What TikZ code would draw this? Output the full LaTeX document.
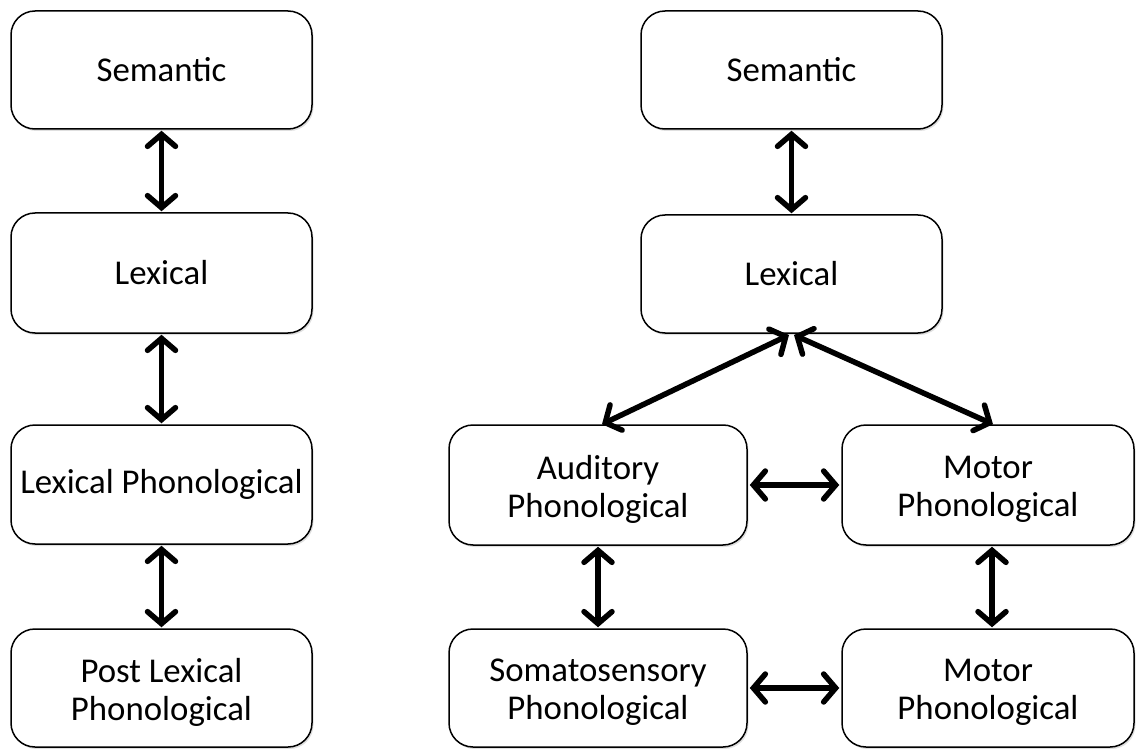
\documentclass[tikz,border=0pt]{standalone}
\usepackage{fontspec}
\setmainfont{Carlito}
\usetikzlibrary{arrows.meta,shadows,positioning}
\begin{document}
\begin{tikzpicture}[x=1pt,y=-1pt,
  level/.style={draw=black, line width=1.5pt, rounded corners=24pt, fill=white,
    align=center, inner sep=0pt, font=\fontsize{34.8}{38}\selectfont,
    drop shadow={opacity=0.25, shadow xshift=1.5pt, shadow yshift=-2pt}},
  twoline/.style={label={[align=center, font=\fontsize{34.8}{38}\selectfont, yshift=-4pt]center:#1}},
  link/.style={line width=5.5pt, line cap=round,
    {Straight Barb[length=12pt,width=28pt,line cap=round]}-{Straight Barb[length=12pt,width=28pt,line cap=round]}}]
\useasboundingbox (0,0) rectangle (1136,749);
% left column: serial model
\node[level, minimum width=301pt, minimum height=118pt] (lsem) at (161.5,70) {Semantic};
\node[level, minimum width=301pt, minimum height=120pt] (llex) at (161.5,273) {Lexical};
\node[level, minimum width=301pt, minimum height=119pt] (lphon) at (161.5,484.5) {Lexical Phonological};
\node[level, minimum width=301pt, minimum height=118pt, twoline={Post Lexical\\Phonological}] (lpost) at (161.5,688) {};
% right column: split phonological levels
\node[level, minimum width=301pt, minimum height=118pt] (rsem) at (791.5,70) {Semantic};
\node[level, minimum width=301pt, minimum height=118pt] (rlex) at (791.5,274) {Lexical};
\node[level, minimum width=298pt, minimum height=120pt, twoline={Auditory\\Phonological}] (aud) at (598,485) {};
\node[level, minimum width=292pt, minimum height=120pt, twoline={Motor\\Phonological}] (mot) at (988,485) {};
\node[level, minimum width=298pt, minimum height=118pt, twoline={Somatosensory\\Phonological}] (soma) at (598,688) {};
\node[level, minimum width=292pt, minimum height=118pt, twoline={Motor\\Phonological}] (mot2) at (988,688) {};
% connectors
\coordinate (lexL) at (789,335);
\coordinate (lexR) at (794,335);
\draw[link] ([yshift=-1pt]lsem.south) -- ([yshift=1pt]llex.north);
\draw[link] ([yshift=-1pt]llex.south) -- ([yshift=1pt]lphon.north);
\draw[link] ([yshift=-1pt]lphon.south) -- ([yshift=1pt]lpost.north);
\draw[link] ([yshift=-1pt]rsem.south) -- ([yshift=1pt]rlex.north);
\draw[link] (lexL) -- ([xshift=4pt,yshift=0pt]aud.north);
\draw[link] (lexR) -- ([xshift=5pt,yshift=0pt]mot.north);
\draw[link] ([xshift=2pt]aud.east) -- ([xshift=-2pt]mot.west);
\draw[link] ([xshift=2pt]soma.east) -- ([xshift=-2pt]mot2.west);
\draw[link] ([yshift=-1pt]aud.south) -- ([yshift=1pt]soma.north);
\draw[link] ([xshift=4pt,yshift=-1pt]mot.south) -- ([xshift=4pt,yshift=1pt]mot2.north);
\end{tikzpicture}
\end{document}
